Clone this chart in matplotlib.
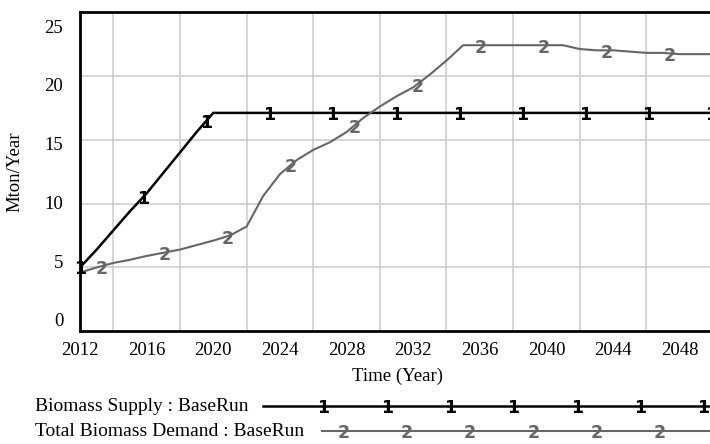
import numpy as np
import matplotlib.pyplot as plt
from matplotlib.lines import Line2D

plt.rcParams['font.family'] = ['Liberation Serif', 'DejaVu Serif']

years = np.arange(2012, 2051)
supply = [5.0, 6.4, 7.9, 9.4, 10.8, 12.4, 14.0, 15.6, 17.1] + [17.1] * 30
demand = [4.6, 5.0, 5.35, 5.6, 5.9, 6.15, 6.4, 6.75, 7.1,
          7.5, 8.2, 10.6, 12.3, 13.4, 14.2, 14.8, 15.6, 16.7, 17.6,
          18.4, 19.1, 20.1, 21.2, 22.4, 22.4, 22.4, 22.4, 22.4, 22.4,
          22.4, 22.1, 22.0, 22.0, 21.9, 21.8, 21.8, 21.7, 21.7, 21.7]

xtick_years = [2012, 2016, 2020, 2024, 2028, 2032, 2036, 2040, 2044, 2048]
ytick_labels = ['0', '5', '10', '15', '20', '25']
series_names = ['Biomass Supply : BaseRun', 'Total Biomass Demand : BaseRun']

W, H = 710, 444
GRAY = '#666666'
MARK_FONT = dict(family='DejaVu Sans', weight='bold', fontsize=12.5)

fig = plt.figure(figsize=(W / 100, H / 100), dpi=100)
ax = fig.add_axes([80 / W, (H - 331.3) / H, 633 / W, 319.3 / H])

ax.plot(years, supply, color='black', lw=1.8, solid_joinstyle='miter')
ax.plot(years, demand, color=GRAY, lw=1.5)

# numbered markers along each line, the way vensim draws them
step = 3.79
for k in range(11):
    x = 2012 + k * step
    ax.text(x, np.interp(x, years, supply) - 0.15, '1', color='black',
            ha='center', va='center', **MARK_FONT)
for k in range(10):
    x = 2013.3 + k * step
    ax.text(x, np.interp(x, years, demand) - 0.2, '2', color=GRAY,
            ha='center', va='center', **MARK_FONT)

ax.set_xlim(2012, 2050)
ax.set_ylim(0, 25)
ax.set_xticks(xtick_years)
ax.set_xticklabels([str(y) for y in xtick_years])
ax.set_xticks(np.arange(2014, 2050, 2), minor=True)
# vensim squeezes its value labels a little toward the middle
ax.set_yticks(0.9 + np.arange(6) * 4.6)
ax.set_yticklabels(ytick_labels)
ax.set_yticks([5, 10, 15, 20], minor=True)
ax.grid(which='minor', color='#cccccc', lw=1.1)
ax.tick_params(which='both', length=0, labelsize=13.5)
ax.tick_params(axis='x', pad=8)
ax.tick_params(axis='y', pad=12)
for s in ax.spines.values():
    s.set_linewidth(2)
    s.set_color('black')

ax.set_xlabel('Time (Year)', fontsize=13.5)
ax.xaxis.set_label_coords(0.502, -0.113)
ax.set_ylabel('Mton/Year', fontsize=13.5, va='center')
ax.yaxis.set_label_coords(-0.103, 0.5)

# legend strip below the plot
rows = [(406, 263, 323.5, 7, 'black', '1', 1.8), (431, 322, 343.3, 6, GRAY, '2', 1.5)]
for name, (ypix, x0, m0, n, col, tag, lw) in zip(series_names, rows):
    yf = 1 - ypix / H
    fig.text(35 / W, yf, name, fontsize=14, ha='left', va='center')
    fig.add_artist(Line2D([x0 / W, 1], [yf, yf], color=col, lw=lw,
                          transform=fig.transFigure))
    for k in range(n):
        fig.text((m0 + k * 63.3) / W, yf - 1.5 / H, tag, color=col,
                 ha='center', va='center', **MARK_FONT)

fig.savefig('out.png', dpi=100)
